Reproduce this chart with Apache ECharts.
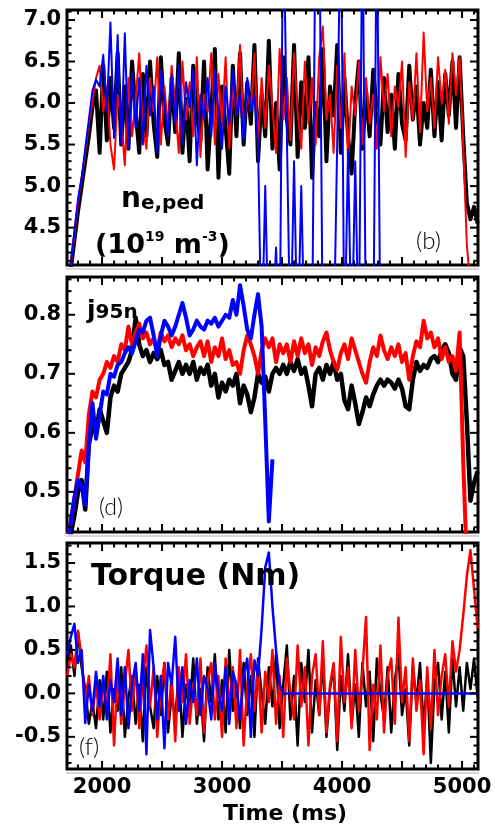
<!DOCTYPE html>
<html><head><meta charset="utf-8">
<script src="https://cdn.jsdelivr.net/npm/echarts@6/dist/echarts.min.js"></script>
<style>html,body{margin:0;padding:0;background:#fff}#c{width:495px;height:827px}</style>
</head><body><div id="c"></div>
<script>
// ---- time samples (ms)
const time = [1710,1740,1770,1800,1830,1860,1890,1920,1950,1980,
2010,2040,2070,2100,2130,2160,2190,2220,2250,2280,
2310,2340,2370,2400,2430,2460,2490,2520,2550,2580,
2610,2640,2670,2700,2730,2760,2790,2820,2850,2880,
2910,2940,2970,3000,3030,3060,3090,3120,3150,3180,
3210,3240,3270,3300,3330,3360,3390,3420,3450,3480,
3510,3540,3570,3600,3630,3660,3690,3720,3750,3780,
3810,3840,3870,3900,3930,3960,3990,4020,4050,4080,
4110,4140,4170,4200,4230,4260,4290,4320,4350,4380,
4410,4440,4470,4500,4530,4560,4590,4620,4650,4680,
4710,4740,4770,4800,4830,4860,4890,4920,4950,4980,
5010,5040,5070,5100,5130];

// ---- panel (b): n_e,ped
const neBlack = [3.7,4.0,4.35,4.7,5.0,5.3,5.6,5.95,6.15,5.4,
6.45,5.55,6.3,5.7,6.6,5.5,6.2,5.45,6.5,5.9,
5.4,6.35,5.6,6.5,5.75,5.35,6.55,5.8,5.5,6.3,
5.65,6.6,5.4,6.05,5.3,6.45,5.85,5.55,6.5,5.2,
5.9,6.65,5.1,6.2,5.7,5.15,6.45,5.6,6.6,5.5,
6.25,5.75,6.7,5.3,6.1,5.6,6.75,5.45,6.0,5.2,
6.55,5.8,5.5,6.7,5.35,6.25,5.7,6.55,5.1,6.0,
5.6,6.65,5.3,6.2,5.85,6.7,5.4,6.3,5.6,5.15,
6.0,6.5,5.45,6.15,5.6,6.4,5.9,5.5,6.3,5.65,
6.1,5.45,6.35,5.75,5.55,6.45,5.8,6.2,5.5,6.0,
5.7,6.4,5.6,6.25,5.55,6.35,5.85,6.5,5.7,6.55,
5.6,4.8,4.6,4.75,4.55];
const neRed = [3.7,4.05,4.4,4.8,5.1,5.4,5.75,6.0,6.3,6.45,
5.9,6.2,5.5,5.2,6.1,5.8,5.25,6.3,5.6,6.05,
6.6,5.7,5.45,6.3,5.9,6.55,5.5,6.2,5.7,6.45,
5.95,5.4,6.5,5.8,6.25,5.6,6.55,5.35,6.1,5.9,
6.6,5.5,6.35,5.75,6.55,5.45,6.2,5.85,6.7,5.6,
6.15,5.9,6.6,5.5,6.3,5.7,6.45,5.95,5.4,6.65,
5.8,6.3,5.55,6.6,5.9,5.45,6.5,5.75,6.3,5.5,
6.55,6.92,5.8,6.1,5.4,6.45,5.7,6.6,5.3,6.2,
5.85,6.5,5.5,6.3,5.75,6.1,5.45,6.55,5.9,6.35,
5.6,6.2,5.95,6.5,5.35,6.25,5.8,6.6,5.65,6.85,
5.9,6.3,5.7,6.55,6.0,6.4,5.75,6.6,6.1,6.55,
5.5,4.3,3.8,null,null];
const neBlue = [3.7,4.05,4.45,4.85,5.1,5.45,5.8,6.15,6.28,6.2,
6.58,5.9,6.97,5.58,6.82,5.5,6.84,5.46,6.37,5.7,
6.3,5.5,6.45,5.85,6.2,5.4,6.4,6.0,5.6,6.35,
5.75,6.45,5.5,6.25,5.95,6.4,5.25,6.1,5.8,6.3,
5.6,6.4,5.9,5.45,6.2,5.75,6.4,5.85,6.1,5.55,
6.3,5.9,6.1,5.5,3.0,5.0,3.0,3.2,4.26,3.0,
8.5,5.64,3.0,5.3,3.0,5.0,3.0,3.0,3.0,8.5,
8.5,3.0,3.0,3.0,3.0,5.56,8.5,3.0,5.44,3.0,
5.3,3.0,8.5,3.0,3.0,3.0,8.5,3.0,null,null,
null,null,null,null,null,null,null,null,null,null,
null,null,null,null,null,null,null,null,null,null,
null,null,null,null,null];

// ---- panel (d): j95n
const jBlack = [0.40,0.43,0.46,0.50,0.52,0.47,0.58,0.61,0.60,0.64,
0.62,0.60,0.66,0.68,0.67,0.70,0.71,0.72,0.74,0.795,
0.75,0.73,0.74,0.72,0.735,0.725,0.74,0.715,0.72,0.69,
0.705,0.72,0.70,0.715,0.70,0.72,0.69,0.71,0.70,0.715,
0.68,0.70,0.66,0.685,0.67,0.69,0.68,0.70,0.65,0.68,
0.665,0.635,0.66,0.70,0.685,0.695,0.67,0.70,0.71,0.70,
0.715,0.70,0.72,0.705,0.725,0.70,0.71,0.68,0.645,0.70,
0.71,0.69,0.715,0.70,0.72,0.69,0.70,0.655,0.64,0.68,
0.65,0.615,0.635,0.66,0.645,0.665,0.68,0.69,0.68,0.69,
0.685,0.675,0.69,0.675,0.645,0.64,0.69,0.72,0.705,0.715,
0.71,0.725,0.73,0.72,0.74,0.75,0.735,0.70,0.69,0.745,
0.73,0.62,0.485,0.515,0.535];
const jRed = [0.42,0.45,0.49,0.53,0.57,0.55,0.63,0.67,0.66,0.69,
0.70,0.72,0.71,0.73,0.72,0.75,0.74,0.78,0.75,0.77,
0.785,0.76,0.77,0.75,0.76,0.74,0.77,0.755,0.765,0.745,
0.76,0.75,0.765,0.74,0.75,0.73,0.745,0.755,0.73,0.755,
0.72,0.745,0.73,0.76,0.725,0.74,0.715,0.72,0.70,0.74,
0.765,0.75,0.73,0.70,0.74,0.76,0.745,0.76,0.72,0.75,
0.735,0.75,0.72,0.755,0.73,0.76,0.735,0.75,0.715,0.745,
0.73,0.755,0.77,0.74,0.72,0.707,0.735,0.75,0.725,0.76,
0.74,0.72,0.70,0.685,0.72,0.745,0.73,0.765,0.74,0.725,
0.745,0.73,0.75,0.72,0.735,0.69,0.73,0.755,0.745,0.79,
0.76,0.77,0.745,0.76,0.725,0.745,0.72,0.73,0.705,0.77,
0.55,0.38,null,null,null];
const jBlue = [0.41,0.45,0.49,0.52,0.51,0.478,0.58,0.65,0.59,0.63,
0.67,0.665,0.70,0.695,0.715,0.72,0.735,0.745,0.735,0.755,
0.775,0.77,0.79,0.795,0.765,0.73,0.765,0.79,0.78,0.765,
0.78,0.80,0.82,0.795,0.765,0.775,0.79,0.78,0.775,0.79,
0.785,0.795,0.78,0.79,0.80,0.795,0.825,0.80,0.85,0.815,
0.775,0.76,0.80,0.835,0.78,0.62,0.45,0.555,null,null,
null,null,null,null,null,null,null,null,null,null,
null,null,null,null,null,null,null,null,null,null,
null,null,null,null,null,null,null,null,null,null,
null,null,null,null,null,null,null,null,null,null,
null,null,null,null,null,null,null,null,null,null,
null,null,null,null,null];

// ---- panel (f): Torque
const tqBlack = [0.35,0.55,0.2,0.7,0.3,0.05,-0.35,-0.1,-0.4,0.15,
-0.3,0.25,-0.45,0.05,-0.2,0.3,-0.5,-0.05,0.2,-0.35,
0.1,-0.55,0.3,-0.15,-0.4,0.2,-0.25,0.35,-0.45,0.0,
-0.3,0.25,-0.5,0.1,-0.2,0.4,-0.35,0.05,-0.55,0.3,
-0.1,0.45,-0.3,0.15,-0.45,0.5,-0.2,0.1,-0.4,0.35,
-0.25,0.2,-0.5,0.4,0.0,-0.35,0.3,-0.15,0.45,-0.4,
0.1,0.55,-0.3,0.2,-0.6,0.35,-0.1,0.5,-0.45,0.15,
-0.25,0.4,-0.5,0.05,0.3,-0.65,0.2,-0.2,0.45,-0.35,
0.1,-0.5,0.35,-0.15,0.25,-0.55,0.4,0.0,-0.3,0.3,
-0.45,0.15,0.45,-0.25,0.05,-0.6,0.3,-0.1,0.35,-0.4,
0.2,-0.8,0.1,0.35,-0.3,0.25,-0.45,0.4,-0.15,0.3,
-0.2,0.35,0.05,0.4,-0.05];
const tqRed = [0.2,0.45,0.3,0.72,0.4,-0.1,0.2,-0.25,0.1,-0.3,
0.15,-0.2,0.45,-0.6,0.25,-0.35,0.1,0.5,-0.2,0.3,
-0.4,0.15,0.55,-0.15,0.3,-0.5,0.05,0.35,-0.3,0.2,
-0.55,0.3,-0.1,0.45,-0.35,0.1,-0.25,0.4,-0.45,0.15,
0.35,-0.3,0.2,-0.5,0.4,-0.15,0.3,-0.4,0.5,-0.6,
0.1,0.45,-0.2,0.35,-0.45,0.25,-0.1,0.5,-0.35,0.2,
-0.5,0.4,0.0,-0.3,0.55,-0.15,0.3,-0.6,0.2,0.45,
-0.25,0.6,-0.45,0.1,0.35,-0.55,0.65,-0.1,0.3,-0.4,
0.5,-0.2,0.25,0.88,-0.65,0.1,-0.3,0.55,-0.45,0.2,
0.4,-0.35,0.87,-0.1,0.3,-0.55,0.4,-0.2,0.15,-0.7,
0.3,-0.4,0.5,-0.25,0.2,0.45,-0.15,0.6,0.25,0.5,
0.9,1.35,1.65,1.2,0.75];
const tqBlue = [0.45,0.65,0.8,0.35,0.5,-0.34,0.1,-0.2,0.25,-0.15,
0.2,-0.3,0.15,-0.1,0.4,-0.25,0.3,-0.4,0.1,0.35,
-0.2,0.45,-0.7,0.73,0.3,-0.3,0.2,-0.63,0.35,0.1,
0.65,-0.2,0.3,-0.35,0.15,-0.1,0.4,-0.25,0.2,0.05,
-0.3,0.35,0.0,-0.2,0.3,-0.35,0.25,0.1,-0.3,0.2,
0.4,-0.5,0.38,0.2,0.75,1.45,1.62,1.0,0.5,0.1,
0,0,0,0,0,0,0,0,0,0,
0,0,0,0,0,0,0,0,0,0,
0,0,0,0,0,0,0,0,0,0,
0,0,0,0,0,0,0,0,0,0,
0,0,0,0,0,0,0,0,0,0,
0,0,0,0,0];

// ---- ticks / labels
const xLabels = [2000,3000,4000,5000];
const xMajor = [2000,2500,3000,3500,4000,4500,5000];
const xMinor = [1800,1900,2100,2200,2300,2400,2600,2700,2800,2900,3100,3200,3300,3400,3600,3700,3800,3900,4100,4200,4300,4400,4600,4700,4800,4900,5100];
const neTicks = [4.5,5.0,5.5,6.0,6.5,7.0];
const neMinor = [4.1,4.2,4.3,4.4,4.6,4.7,4.8,4.9,5.1,5.2,5.3,5.4,5.6,5.7,5.8,5.9,6.1,6.2,6.3,6.4,6.6,6.7,6.8,6.9,7.1];
const jTicks = [0.5,0.6,0.7,0.8];
const jMinor = [0.44,0.46,0.48,0.52,0.54,0.56,0.58,0.62,0.64,0.66,0.68,0.72,0.74,0.76,0.78,0.82,0.84,0.86];
const tqTicks = [-0.5,0.0,0.5,1.0,1.5];
const tqMinor = [-0.8,-0.7,-0.6,-0.4,-0.3,-0.2,-0.1,0.1,0.2,0.3,0.4,0.6,0.7,0.8,0.9,1.1,1.2,1.3,1.4,1.6,1.7];

const X_MIN = 1708, X_MAX = 5133;
const FONT = '"DejaVu Sans", "Liberation Sans", sans-serif';
const colors = ['#000000', '#ff0000', '#0000ff'];

const panels = [
  {top: 10, height: 255, min: 4.05, max: 7.12, major: neTicks, minor: neMinor, data: [neBlack, neRed, neBlue], widths: [4, 2, 2]},
  {top: 277, height: 255, min: 0.432, max: 0.864, major: jTicks, minor: jMinor, data: [jBlack, jRed, jBlue], widths: [4.5, 4, 4]},
  {top: 543, height: 226, min: -0.87, max: 1.73, major: tqTicks, minor: tqMinor, data: [tqBlack, tqRed, tqBlue], widths: [2.5, 2.5, 2.5]}
];

const MAJ = 8, MIN = 4.5;
function tickStyle() { return {stroke: '#000', lineWidth: 2}; }
function xTickItem(params, api) {
  const pt = api.coord([api.value(0), api.value(1)]);
  const cs = params.coordSys;
  const len = api.value(2) ? MAJ : MIN;
  const x = pt[0];
  return {type: 'group', children: [
    {type: 'line', shape: {x1: x, y1: cs.y + cs.height, x2: x, y2: cs.y + cs.height - len}, style: tickStyle()},
    {type: 'line', shape: {x1: x, y1: cs.y, x2: x, y2: cs.y + len}, style: tickStyle()}
  ]};
}
function yTickItem(params, api) {
  const pt = api.coord([api.value(0), api.value(1)]);
  const cs = params.coordSys;
  const len = api.value(2) ? MAJ : MIN;
  const y = pt[1];
  return {type: 'group', children: [
    {type: 'line', shape: {x1: cs.x, y1: y, x2: cs.x + len, y2: y}, style: tickStyle()},
    {type: 'line', shape: {x1: cs.x + cs.width, y1: y, x2: cs.x + cs.width - len, y2: y}, style: tickStyle()}
  ]};
}

const grid = [], xAxis = [], yAxis = [], series = [];
panels.forEach((p, gi) => {
  grid.push({left: 67, right: 17, top: p.top, height: p.height, show: true, borderColor: '#000', borderWidth: 3, backgroundColor: 'rgba(0,0,0,0)'});
  const isLast = gi === panels.length - 1;
  xAxis.push({
    type: 'value', gridIndex: gi, position: 'bottom', min: X_MIN, max: X_MAX,
    axisLine: {show: false}, splitLine: {show: false}, axisTick: {show: false},
    axisLabel: isLast ? {show: true, customValues: xLabels, margin: 8, color: '#000',
      fontFamily: FONT, fontWeight: 'bold', fontSize: 21, formatter: v => String(Math.round(v))} : {show: false}
  });
  yAxis.push({
    type: 'value', gridIndex: gi, position: 'left', min: p.min, max: p.max,
    axisLine: {show: false}, splitLine: {show: false}, axisTick: {show: false},
    axisLabel: {show: true, customValues: p.major, margin: 6, color: '#000',
      fontFamily: FONT, fontWeight: 'bold', fontSize: 21,
      formatter: v => Number(v).toFixed(1)}
  });
  p.data.forEach((vals, si) => {
    series.push({
      type: 'line', xAxisIndex: gi, yAxisIndex: gi,
      data: time.map((t, i) => [t, vals[i]]),
      showSymbol: false, symbol: 'none', connectNulls: false, clip: true,
      lineStyle: {color: colors[si], width: p.widths[si], join: 'round'},
      z: 2 + si, silent: true
    });
  });
  // axis ticks on all four sides, placed through the axis scales
  const xt = xMajor.map(v => [v, p.min, 1]).concat(xMinor.map(v => [v, p.min, 0]));
  const yt = p.major.map(v => [X_MIN, v, 1]).concat(p.minor.map(v => [X_MIN, v, 0]));
  series.push({type: 'custom', coordinateSystem: 'cartesian2d', xAxisIndex: gi, yAxisIndex: gi, data: xt, renderItem: xTickItem, clip: false, silent: true, z: 10});
  series.push({type: 'custom', coordinateSystem: 'cartesian2d', xAxisIndex: gi, yAxisIndex: gi, data: yt, renderItem: yTickItem, clip: false, silent: true, z: 10});
});

// ---- text annotations (baseline positioned)
const mctx = document.createElement('canvas').getContext('2d');
function baseOff(font, size) {
  mctx.font = font;
  mctx.textBaseline = 'alphabetic';
  const a = mctx.measureText('Hg').fontBoundingBoxAscent;
  mctx.textBaseline = 'middle';
  const b = mctx.measureText('Hg').fontBoundingBoxAscent;
  mctx.textBaseline = 'alphabetic';
  if (a === undefined || b === undefined) return 0.33 * size;
  return a - b;
}
function seq(x, parts) {
  const out = [];
  let cx = x;
  parts.forEach(p => {
    const fam = p.f || FONT;
    const font = `${p.w || 'bold'} ${p.s}px ${fam}`;
    mctx.font = font;
    const w = mctx.measureText(p.t).width;
    out.push({type: 'text', x: cx, y: p.b - baseOff(font, p.s), z: 100,
      style: {text: p.t, font: font, fill: '#000', align: 'left', verticalAlign: 'middle'}});
    cx += w + (p.dx || 0);
  });
  return out;
}
function centered(cxp, t, s, b, w) {
  const font = `${w || 'bold'} ${s}px ${FONT}`;
  return {type: 'text', x: cxp, y: b - baseOff(font, s), z: 100,
    style: {text: t, font: font, fill: '#000', align: 'center', verticalAlign: 'middle'}};
}
const LIGHT = '"DejaVu Sans ExtraLight", "Lato Light", "DejaVu Sans", sans-serif';
// faint shadow line under each panel frame
const shadows = panels.map(p => ({type: 'line', z: 0,
  shape: {x1: 66, y1: p.top + p.height + 4, x2: 479, y2: p.top + p.height + 4},
  style: {stroke: '#c8c8c8', lineWidth: 1.5}}));
const graphic = [].concat(
  shadows,
  seq(121, [{t: 'n', s: 28, b: 207}, {t: 'e,ped', s: 20, b: 209}]),
  seq(95, [{t: '(10', s: 27, b: 253}, {t: '19', s: 14, b: 241}, {t: ' m', s: 27, b: 253}, {t: '-3', s: 14, b: 241}, {t: ')', s: 27, b: 253}]),
  seq(416, [{t: '(b)', s: 24, b: 249, w: 'normal', f: LIGHT}]),
  seq(87, [{t: 'j', s: 25, b: 318}, {t: '95n', s: 20, b: 318}]),
  seq(99, [{t: '(d)', s: 23, b: 515, w: 'normal', f: LIGHT}]),
  seq(91, [{t: 'Torque (Nm)', s: 30, b: 585}]),
  seq(79, [{t: '(f)', s: 24, b: 755, w: 'normal', f: LIGHT}]),
  [centered(285, 'Time (ms)', 22, 820)]
);

const chart = echarts.init(document.getElementById('c'), null, {renderer: 'canvas'});
chart.setOption({
  animation: false,
  backgroundColor: '#ffffff',
  grid, xAxis, yAxis, series, graphic
});
</script>
</body></html>
